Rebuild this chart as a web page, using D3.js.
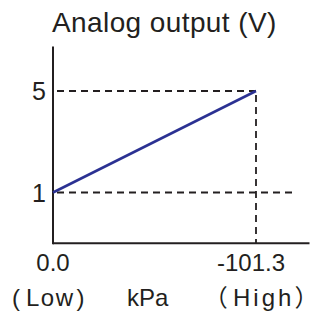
<!DOCTYPE html>
<html>
<head>
<meta charset="utf-8">
<script src="https://cdn.jsdelivr.net/npm/d3@7"></script>
<style>
  body { margin: 0; background: #fff; }
  text { font-family: "Liberation Sans", Arial, sans-serif; fill: #231f20; }
  .cjk { font-family: "Noto Sans CJK SC", sans-serif; font-feature-settings: "palt"; }
</style>
</head>
<body>
<div id="chart"></div>
<script>
// pressure (kPa) vs analog output (V)
var pressure = [0, -101.3];
var voltage = [1, 5];
var xTickLabels = ['0.0', '-101.3'];
var yTicks = [1, 5];
var yExtent = [-1, 6.75];   // axis spans a bit beyond the data
var xEnd = -128;            // x axis runs off to the right edge

var width = 312, height = 316;

var svg = d3.select('#chart')
    .append('svg')
    .attr('width', width)
    .attr('height', height);

const xScale = d3.scaleLinear()
    .domain([0, -101.3])
    .range([53, 256]);

const yScale = d3.scaleLinear()
    .domain([1, 5])
    .range([192.5, 91]);

// guide lines
var guides = svg.append('g')
    .attr('stroke', '#231f20')
    .attr('stroke-width', 1.8)
    .attr('stroke-dasharray', '7,5');

guides.append('line')
    .attr('x1', xScale(0) + 4).attr('x2', xScale(pressure[1]))
    .attr('y1', yScale(voltage[1])).attr('y2', yScale(voltage[1]));
guides.append('line')
    .attr('x1', xScale(0) + 4).attr('x2', xScale(-121))
    .attr('y1', yScale(voltage[0])).attr('y2', yScale(voltage[0]));
guides.append('line')
    .attr('x1', xScale(pressure[1])).attr('x2', xScale(pressure[1]))
    .attr('y1', yScale(voltage[1]) + 4).attr('y2', yScale(yExtent[0]));

// axes
var axes = svg.append('g')
    .attr('stroke', '#231f20')
    .attr('stroke-width', 2)
    .attr('fill', 'none');
axes.append('line')
    .attr('x1', xScale(0)).attr('x2', xScale(0))
    .attr('y1', yScale(yExtent[1])).attr('y2', yScale(yExtent[0]) + 1);
axes.append('line')
    .attr('x1', xScale(0)).attr('x2', xScale(xEnd))
    .attr('y1', yScale(yExtent[0])).attr('y2', yScale(yExtent[0]));

// output line
var line = d3.line()
    .x(d => xScale(d[0]))
    .y(d => yScale(d[1]));

svg.append('path')
    .datum(d3.zip(pressure, voltage))
    .attr('d', line)
    .attr('fill', 'none')
    .attr('stroke', '#2b3192')
    .attr('stroke-width', 2.6);

// y tick labels
svg.selectAll('.ytick')
    .data(yTicks)
    .enter().append('text')
    .attr('class', 'ytick')
    .attr('x', 46)
    .attr('y', d => yScale(d) + 9)
    .attr('text-anchor', 'end')
    .style('font-size', '25px')
    .text(d => d);

// x tick labels
svg.selectAll('.xtick')
    .data(pressure)
    .enter().append('text')
    .attr('class', 'xtick')
    .attr('x', (d, i) => xScale(d) - (i ? 5 : 0))
    .attr('y', 271)
    .attr('text-anchor', 'middle')
    .style('font-size', '24px')
    .text((d, i) => xTickLabels[i]);

// title
svg.append('text')
    .attr('x', 52)
    .attr('y', 32)
    .style('font-size', '28px')
    .style('letter-spacing', '0.4px')
    .text('Analog output (V)');

// bottom captions
var low = svg.append('text')
    .attr('x', 12).attr('y', 306)
    .style('font-size', '24px');
low.append('tspan').text('(');
low.append('tspan').attr('dx', 6).style('letter-spacing', '1.5px').text('Low');
low.append('tspan').attr('dx', 2).text(')');

svg.append('text')
    .attr('x', 127).attr('y', 306)
    .style('font-size', '24px')
    .text('kPa');

var high = svg.append('text')
    .attr('x', 215).attr('y', 306)
    .style('font-size', '24px');
high.append('tspan').attr('class', 'cjk').text('（');
high.append('tspan').attr('dx', 6).style('letter-spacing', '3px').text('High');
high.append('tspan').attr('class', 'cjk').attr('dx', 1).text('）');
</script>
</body>
</html>
